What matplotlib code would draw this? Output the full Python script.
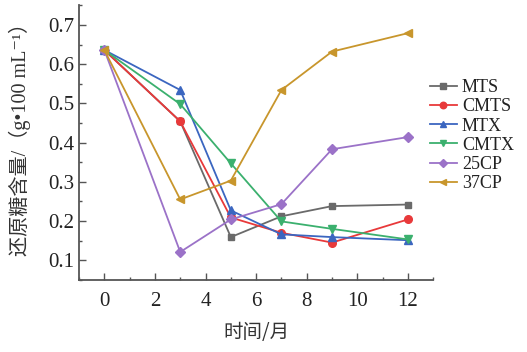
import matplotlib
matplotlib.use("Agg")
import matplotlib.pyplot as plt
from matplotlib.ticker import MultipleLocator

months = [0, 3, 5, 7, 9, 12]
series_names = ["MTS", "CMTS", "MTX", "CMTX", "25CP", "37CP"]
mts = [0.636, 0.454, 0.159, 0.212, 0.238, 0.242]
cmts = [0.636, 0.454, 0.209, 0.170, 0.145, 0.204]
mtx = [0.636, 0.534, 0.227, 0.166, 0.159, 0.151]
cmtx = [0.636, 0.498, 0.347, 0.199, 0.180, 0.153]
cp25 = [0.636, 0.121, 0.204, 0.243, 0.383, 0.414]
cp37 = [0.636, 0.255, 0.303, 0.534, 0.632, 0.679]
x_ticks = [0, 2, 4, 6, 8, 10, 12]
y_ticks = [0.1, 0.2, 0.3, 0.4, 0.5, 0.6, 0.7]

colors = ["#6a6a6a", "#e8393a", "#3b66c0", "#3bb06e", "#9b72c8", "#c8962c"]
markers = ["s", "o", "^", "v", "D", "<"]
msizes = [5, 5.5, 5.5, 5.5, 5, 5.5]

serif = ["Liberation Serif", "DejaVu Serif"]
cjk = ["Noto Sans CJK SC", "DejaVu Sans"]

fig = plt.figure(figsize=(5.27, 3.52), dpi=100)
ax = fig.add_axes([0.150, 0.205, 0.672, 0.781])

for name, vals, c, m, ms in zip(series_names, [mts, cmts, mtx, cmtx, cp25, cp37], colors, markers, msizes):
    ax.plot(months, vals, color=c, marker=m, markersize=ms, linewidth=1.3, label=name)

ax.set_xlim(-1, 13)
ax.set_ylim(0.05, 0.751)
ax.set_xticks(x_ticks)
ax.set_yticks(y_ticks)
ax.set_yticklabels([f"{v:.1f}" for v in y_ticks])
ax.xaxis.set_minor_locator(MultipleLocator(1))
ax.yaxis.set_minor_locator(MultipleLocator(0.05))
ax.tick_params(which="both", direction="in", colors="#555555", labelcolor="#222222", labelsize=15, width=1)
ax.tick_params(which="major", length=5)
ax.tick_params(which="minor", length=2.5)
ax.tick_params(axis="x", pad=9)
for lab in ax.get_xticklabels() + ax.get_yticklabels():
    lab.set_fontfamily(serif)

for s in ["top", "right"]:
    ax.spines[s].set_visible(False)
for s in ["left", "bottom"]:
    ax.spines[s].set_color("#555555")
    ax.spines[s].set_linewidth(1.3)

ax.set_xlabel("时间/月", family=cjk, fontsize=14, color="#333333", labelpad=8)
ax.set_ylabel("还原糖含量/（g•100 mL⁻¹）", family=["Liberation Serif", "Noto Sans CJK SC", "DejaVu Sans"],
              fontsize=14.5, color="#333333")
ax.yaxis.set_label_coords(-0.135, 0.53)

leg = fig.legend(loc="upper left", bbox_to_anchor=(0.815, 0.775), frameon=False,
                 prop={"family": serif, "size": 13}, labelspacing=0.12, handlelength=1.5,
                 handletextpad=0.3, borderaxespad=0, borderpad=0, markerscale=0.85)
for t in leg.get_texts():
    t.set_color("#222222")

fig.savefig("out.png", dpi=100)
